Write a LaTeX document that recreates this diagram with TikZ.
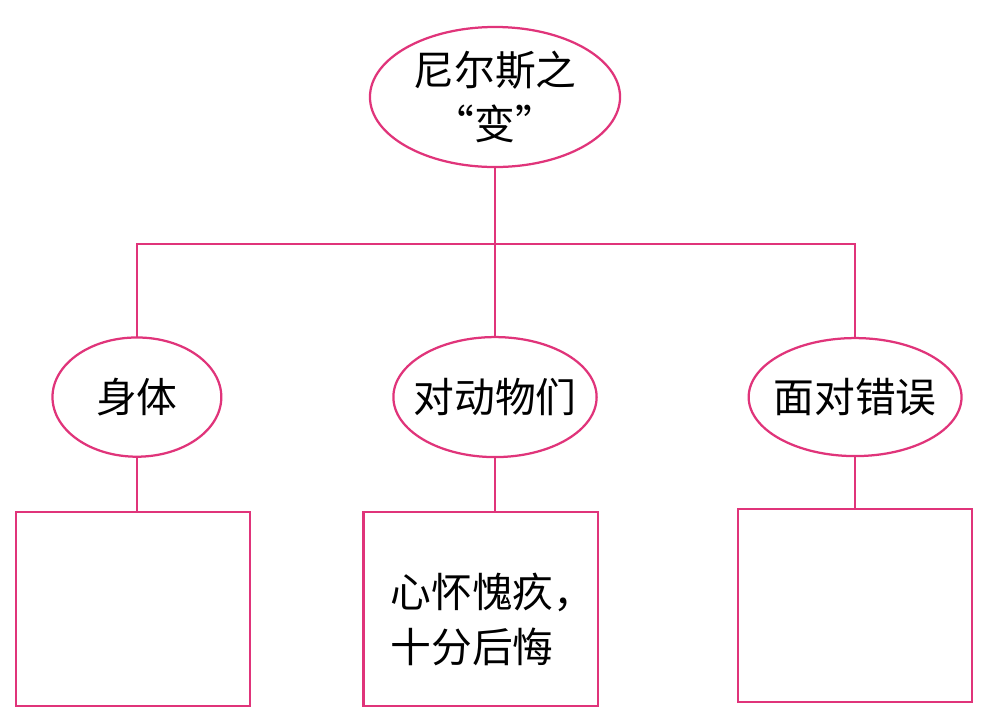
\documentclass[tikz,border=0pt]{standalone}
\usepackage{fontspec}
\usepackage{xcolor}
\usepackage{tikz}
\usetikzlibrary{positioning}
\usetikzlibrary{shapes.geometric}

\newfontfamily\cjk{Noto Sans CJK SC}
\definecolor{linkpink}{RGB}{224,52,122}
\newcommand{\squeeze}[1]{\makebox[0pt][c]{#1}}

\tikzset{
	bubble/.style={ellipse,draw=linkpink,line width=1.6pt,inner sep=0pt,outer sep=0pt,align=center},
	answer/.style={rectangle,draw=linkpink,line width=1.6pt,inner sep=0pt,outer sep=0pt,minimum width=5.85cm,minimum height=4.85cm},
	link/.style={draw=linkpink,line width=1.6pt}
}

\begin{document}
\begin{tikzpicture}[x=0.025cm,y=-0.025cm,font=\cjk\fontsize{29}{39}\selectfont]
	\useasboundingbox (0,0) rectangle (981,713);

	\node[bubble,minimum width=6.25cm,minimum height=3.5cm] (root) at (495,97) {尼尔斯之\\“变”};

	\node[bubble,minimum width=5.08cm,minimum height=3cm] (animal) [below = 4.25cm of root] {\squeeze{对动物们}};
	\node[bubble,minimum width=4.22cm,minimum height=2.98cm] (body) [left = 4.3cm of animal] {\squeeze{身体}};
	\node[bubble,minimum width=5.32cm,minimum height=2.95cm] (mistake) [right = 3.8cm of animal] {\squeeze{面对错误}};

	\node[answer] (box1) [below = 1.38cm of body, xshift=-0.09cm] {};
	\node[answer] (box2) [below = 1.38cm of animal, xshift=-0.36cm] {};
	\node[answer,minimum height=4.82cm] (box3) [below = 1.33cm of mistake] {};

	\node[anchor=west,align=left,inner sep=0pt] (regret) at ([xshift=0.67cm,yshift=-0.25cm]box2.west) {心怀愧疚，\\十分后悔};

	\coordinate (bus) at (0,244);

	\draw[link] (root.south) -- (root.south |- bus);
	\draw[link] (body.north) -- (body.north |- bus) -| (mistake.north);
	\draw[link] (animal.north) -- (animal.north |- bus);

	\draw[link] (body.south) -- (body.south |- box1.north);
	\draw[link] (animal.south) -- (animal.south |- box2.north);
	\draw[link] (mistake.south) -- (mistake.south |- box3.north);
\end{tikzpicture}
\end{document}
